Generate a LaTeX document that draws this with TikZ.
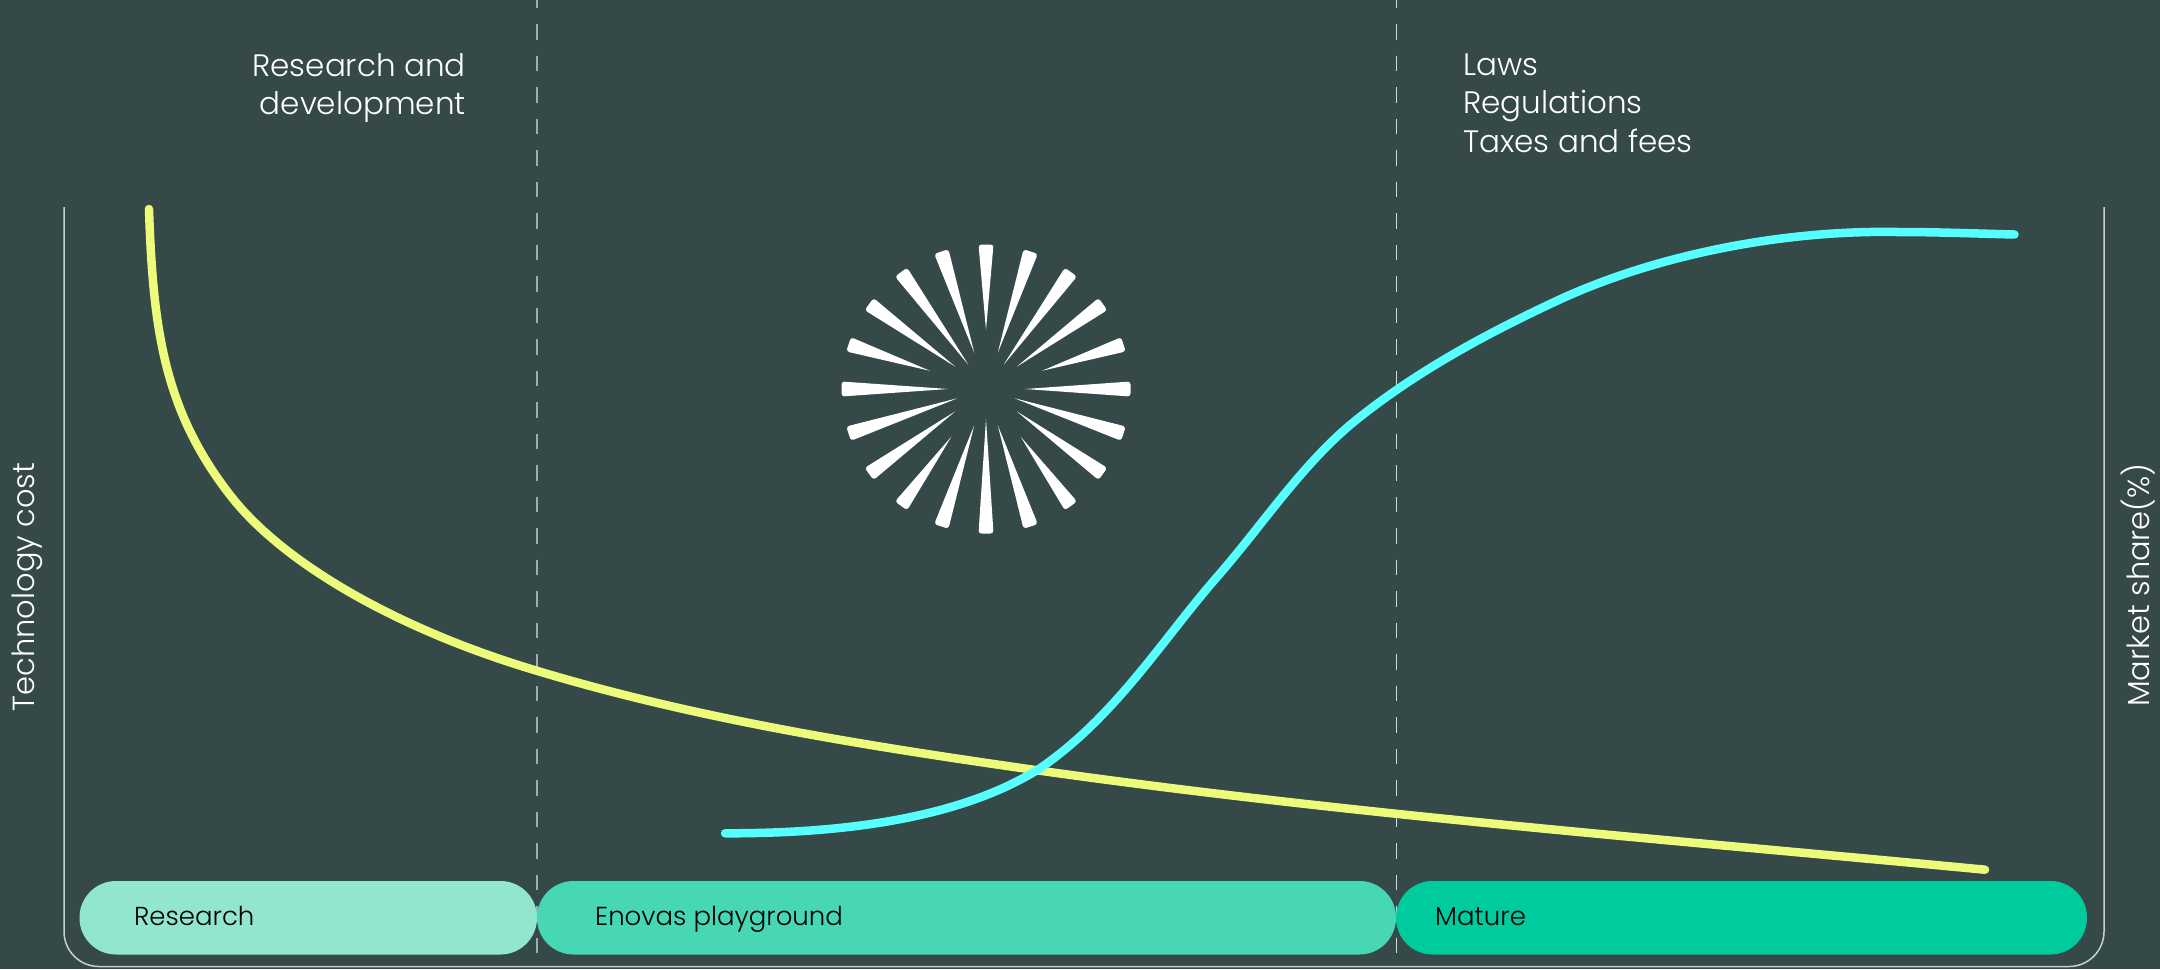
\documentclass[tikz,border=0pt]{standalone}
\usepackage{fontspec}
\setmainfont{Poppins Light}
\definecolor{bgc}{HTML}{344948}
\definecolor{pillA}{HTML}{92E6CD}
\definecolor{pillB}{HTML}{48D7B5}
\definecolor{pillC}{HTML}{00CB9D}
\definecolor{ycurve}{HTML}{ECFB7A}
\definecolor{ccurve}{HTML}{56FFFD}
\definecolor{framec}{HTML}{C8CFCF}
\definecolor{dividerA}{HTML}{9FACAC}
\definecolor{dividerB}{HTML}{D4D9D9}
\begin{document}
\begin{tikzpicture}[x=1pt,y=-1pt,
  framel/.style={draw=framec,line width=1.5pt,rounded corners=35pt},
  divider/.style={draw=#1,line width=1.8pt,dash pattern=on 15.5pt off 16pt,dash phase=7.5pt},
  pill/.style={fill=#1,rounded corners=36.5pt},
  pilltext/.style={text=black,inner sep=0pt,font=\fontsize{26}{30}\selectfont,anchor=base west},
  whitetext/.style={text=white,inner sep=0pt,font=\fontsize{31}{38.6}\selectfont},
  sidetext/.style={text=white,inner sep=0pt,rotate=90,font=\fontsize{30.5}{36}\selectfont},
  curve/.style={draw=#1,line width=8.5pt,line cap=round,line join=round}]
\fill[bgc] (0,0) rectangle (2160,969);
\useasboundingbox (0,0) rectangle (2160,969);
% frame
\draw[framel] (64,207) -- (64,966.5) -- (2104,966.5) -- (2104,207);
% dividers
\draw[divider=dividerA] (537,0) -- (537,960);
\draw[divider=dividerB] (1396.5,0) -- (1396.5,960);
% phases
\fill[pill=pillA] (79.5,881) rectangle (537,954.5);
\fill[pill=pillB] (537,881) rectangle (1396,954.5);
\fill[pill=pillC] (1396,881) rectangle (2087,954.5);
\node[pilltext] (research) at (134,925) {Research};
\node[pilltext] (enovas) at (595,925) {Enovas playground};
\node[pilltext] (mature) at (1435,925) {Mature};
% captions
\node[whitetext,align=right,anchor=east] (rd) at (466,88) {Research and\\development};
\node[whitetext,align=left,anchor=west] (laws) at (1463,103) {Laws\\Regulations\\Taxes and fees};
\node[sidetext] (tc) at (27,587) {Technology cost};
\node[sidetext] (ms) at (2138,585) {Market share(\%)};
% burst
\begin{scope}[shift={(986,389)}]
\foreach \a/\r in {0/39,18/59,36/38,54/30,72/38,90/59,108/38,126/30,144/38,162/59,180/38,198/30,216/38,234/59,252/38,270/30,288/38,306/59,324/38,342/30}{
  \fill[white,rotate=\a] (\r,0) [rounded corners=3pt] -- (144.5,7.5) -- (144.5,-7.5) [sharp corners] -- cycle;
}
\end{scope}
% curves
\draw[curve=ycurve] (149,209) .. controls (153,329) and (164,410) .. (230,495)
  .. controls (285,566) and (403,631) .. (536.7,670.7)
  .. controls (700,720) and (872,746.7) .. (1040,770.7)
  .. controls (1355,815) and (1670,839.7) .. (1985,869.7);
\draw[curve=ccurve] (725,833.3) .. controls (830,833.5) and (955,822) .. (1040,768.3)
  .. controls (1116,716) and (1162,640) .. (1217,577)
  .. controls (1262,525.5) and (1299,468.5) .. (1350,425)
  .. controls (1413,373) and (1487,333) .. (1563,298)
  .. controls (1665,252) and (1790,230) .. (1897,232)
  .. controls (1936,232) and (1975,233.5) .. (2014.5,234.5);
\end{tikzpicture}
\end{document}
